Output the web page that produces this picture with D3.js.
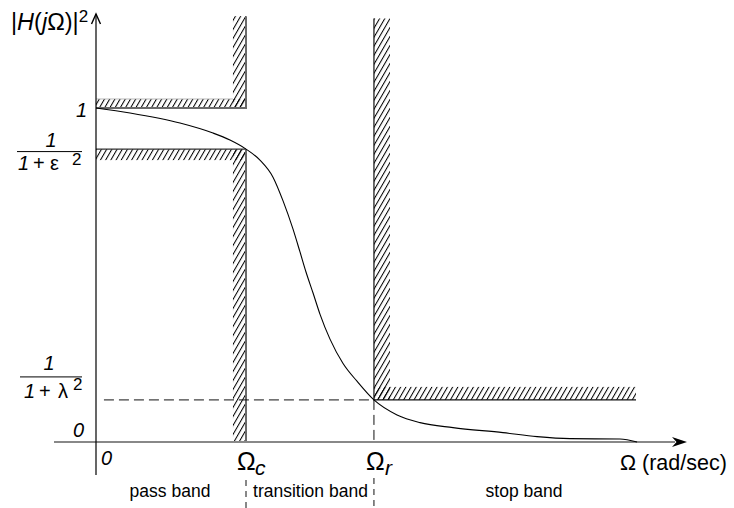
<!DOCTYPE html>
<html>
<head>
<meta charset="utf-8">
<script src="https://cdn.jsdelivr.net/npm/d3@7"></script>
<style>
  html, body { margin: 0; padding: 0; background: #fff; }
  svg { display: block; font-family: "Liberation Sans", Arial, Helvetica, sans-serif; }
</style>
</head>
<body>
<svg id="chart" width="734" height="508"></svg>
<script>
// ---- Data (Ω in units of Ωc, |H|^2 magnitude) ----
const omegaC = 1.0;
const omegaR = 1.853;
const omegaStopEnd = 3.6;
const passTop = 1.0;          // 1
const passMin = 0.877;        // 1/(1+ε²)
const stopMax = 0.126;        // 1/(1+λ²)
const curveOmega = [0, 0.227, 0.56, 0.78, 0.893, 1.0, 1.093, 1.18, 1.247, 1.313, 1.36, 1.40, 1.447, 1.493, 1.56, 1.647, 1.74, 1.853, 2.007, 2.16, 2.38, 2.713, 2.94, 3.16, 3.493, 3.607];
const curveH     = [1.0, 0.985, 0.955, 0.925, 0.904, 0.877, 0.844, 0.793, 0.722, 0.638, 0.569, 0.509, 0.446, 0.383, 0.308, 0.235, 0.182, 0.126, 0.081, 0.058, 0.043, 0.028, 0.016, 0.010, 0.009, 0.0];
const bandLabels = ["pass band", "transition band", "stop band"];

// ---- Scales ----
const x = d3.scaleLinear().domain([0, 1]).range([96, 246]);
const y = d3.scaleLinear().domain([0, 1]).range([442, 108]);

const svg = d3.select("#chart");
const defs = svg.append("defs");
const pat = defs.append("pattern")
  .attr("id", "hatch").attr("patternUnits", "userSpaceOnUse")
  .attr("width", 4.5).attr("height", 10)
  .attr("patternTransform", "rotate(30)");
pat.append("line").attr("x1", 0.5).attr("y1", -1).attr("x2", 0.5).attr("y2", 11)
  .attr("stroke", "#000").attr("stroke-width", 1.05);

const g = svg.append("g");

// ---- Hatched tolerance regions ----
const stripTopC = 1.275, stripTopR = 1.268;
const wC = 0.087, wR = 0.107;
const hatchRects = [
  {x0: 0, x1: omegaC, y0: passTop, y1: 1.027},
  {x0: omegaC - wC, x1: omegaC, y0: passTop, y1: stripTopC},
  {x0: 0, x1: omegaC, y0: 0.844, y1: passMin},
  {x0: omegaC - wC, x1: omegaC, y0: 0, y1: passMin},
  {x0: omegaR, x1: omegaR + wR, y0: stopMax, y1: stripTopR},
  {x0: omegaR, x1: omegaStopEnd, y0: stopMax, y1: 0.165}
];
g.selectAll("rect.h").data(hatchRects).join("rect")
  .attr("class", "h")
  .attr("x", d => x(d.x0)).attr("y", d => y(d.y1))
  .attr("width", d => x(d.x1) - x(d.x0)).attr("height", d => y(d.y0) - y(d.y1))
  .attr("fill", "url(#hatch)");

const bl = (pts, color, w) => g.append("path")
  .attr("d", d3.line().x(p => x(p[0])).y(p => y(p[1]))(pts))
  .attr("fill", "none").attr("stroke", color).attr("stroke-width", w);
bl([[0, 1.027], [omegaC - wC, 1.027]], "#aaa", 0.8);
bl([[0, passTop], [omegaC, passTop], [omegaC, stripTopC]], "#6a6a6a", 2);
bl([[0, passMin], [omegaC, passMin]], "#333", 1.2);
bl([[omegaC, passMin], [omegaC, 0]], "#6a6a6a", 2);
bl([[omegaR, stripTopR], [omegaR, stopMax], [omegaStopEnd, stopMax]], "#111", 1.2);

// dashed guide lines
const dash = (pts, da) => g.append("path")
  .attr("d", d3.line().x(p => x(p[0])).y(p => y(p[1]))(pts))
  .attr("fill", "none").attr("stroke", "#111").attr("stroke-width", 1)
  .attr("stroke-dasharray", da);
dash([[0.053, stopMax], [omegaR, stopMax]], "10,5");
dash([[omegaR, stopMax], [omegaR, 0]], "10,5");
svg.append("line").attr("x1", x(omegaC)).attr("x2", x(omegaC)).attr("y1", 480).attr("y2", 508)
  .attr("stroke", "#111").attr("stroke-dasharray", "6,5");
svg.append("line").attr("x1", x(omegaR)).attr("x2", x(omegaR)).attr("y1", 478).attr("y2", 508)
  .attr("stroke", "#111").attr("stroke-dasharray", "6,5");

// ---- Axes ----
g.append("line").attr("x1", x(-0.28)).attr("x2", x(3.86)).attr("y1", y(0)).attr("y2", y(0))
  .attr("stroke", "#888").attr("stroke-width", 2);
g.append("path")
  .attr("d", `M${x(3.94)},${y(0)} L${x(3.84)},${y(0) - 5} L${x(3.87)},${y(0)} L${x(3.84)},${y(0) + 5} Z`)
  .attr("fill", "#000");
g.append("line").attr("x1", x(0)).attr("x2", x(0)).attr("y1", 475).attr("y2", 14)
  .attr("stroke", "#000").attr("stroke-width", 1.2);
g.append("path")
  .attr("d", `M${x(0) - 4.5},24 L${x(0)},14 L${x(0) + 4.5},24`)
  .attr("fill", "none").attr("stroke", "#000").attr("stroke-width", 1.4);

// ---- Response curve ----
const pts = curveOmega.map((o, i) => [o, curveH[i]]);
g.append("path")
  .attr("d", d3.line().x(p => x(p[0])).y(p => y(p[1])).curve(d3.curveMonotoneX)(pts))
  .attr("fill", "none").attr("stroke", "#000").attr("stroke-width", 1.1);

// ---- Labels ----
const t = (tx, ty, str, opts = {}) => {
  const e = svg.append("text").attr("x", tx).attr("y", ty)
    .attr("font-size", opts.size || 17)
    .attr("text-anchor", opts.anchor || "start")
    .attr("fill", "#000");
  if (opts.italic) e.attr("font-style", "italic");
  e.text(str);
  return e;
};

// y-axis title |H(jΩ)|²
const yt = svg.append("text").attr("x", 11).attr("y", 30).attr("font-size", 23.5);
yt.append("tspan").text("|");
yt.append("tspan").attr("font-style", "italic").text("H");
yt.append("tspan").text("(");
yt.append("tspan").attr("font-style", "italic").text("j");
yt.append("tspan").text("Ω)|");
yt.append("tspan").attr("font-size", 17).attr("dy", -8).text("2");

// y tick labels
t(x(0) - 9, y(passTop) + 9, "1", {size: 20, italic: true, anchor: "end"});
t(x(0) - 12, y(0) - 5, "0", {size: 20, italic: true, anchor: "end"});

// 1/(1+ε²)
t(51, y(passMin) - 2, "1", {size: 20, italic: true, anchor: "middle"});
svg.append("line").attr("x1", 17).attr("x2", 82).attr("y1", y(passMin) + 2.5).attr("y2", y(passMin) + 2.5)
  .attr("stroke", "#000").attr("stroke-width", 1);
const d1 = y(passMin) + 21;
t(18, d1, "1", {size: 20, italic: true});
t(33, d1, "+", {size: 20});
t(50, d1, "ε", {size: 20});
t(72, d1 - 5, "2", {size: 17});

// 1/(1+λ²)
t(49, y(stopMax) - 30, "1", {size: 20, italic: true, anchor: "middle"});
svg.append("line").attr("x1", 20).attr("x2", 82).attr("y1", y(stopMax) - 23).attr("y2", y(stopMax) - 23)
  .attr("stroke", "#000").attr("stroke-width", 1);
const d2 = y(stopMax) - 2;
t(24, d2, "1", {size: 20, italic: true});
t(39, d2, "+", {size: 20});
t(58, d2, "λ", {size: 20});
t(73, d2 - 8, "2", {size: 17});

// x tick labels
t(x(0) + 5, 465, "0", {size: 20, italic: true});
t(x(omegaC) - 9, 470, "Ω", {size: 25});
t(x(omegaC) + 9, 475, "c", {size: 21, italic: true});
t(x(omegaR) - 8, 470, "Ω", {size: 25});
t(x(omegaR) + 11, 475, "r", {size: 21, italic: true});
t(620, 470, "Ω (rad/sec)", {size: 21.5});

// band labels
const bandX = [(x(0) + x(omegaC)) / 2 - 1, (x(omegaC) + x(omegaR)) / 2 + 0.5, (x(omegaR) + x(omegaStopEnd)) / 2 + 19];
bandLabels.forEach((s, i) => t(bandX[i], 497, s, {size: 17.5, anchor: "middle"}));
</script>
</body>
</html>
